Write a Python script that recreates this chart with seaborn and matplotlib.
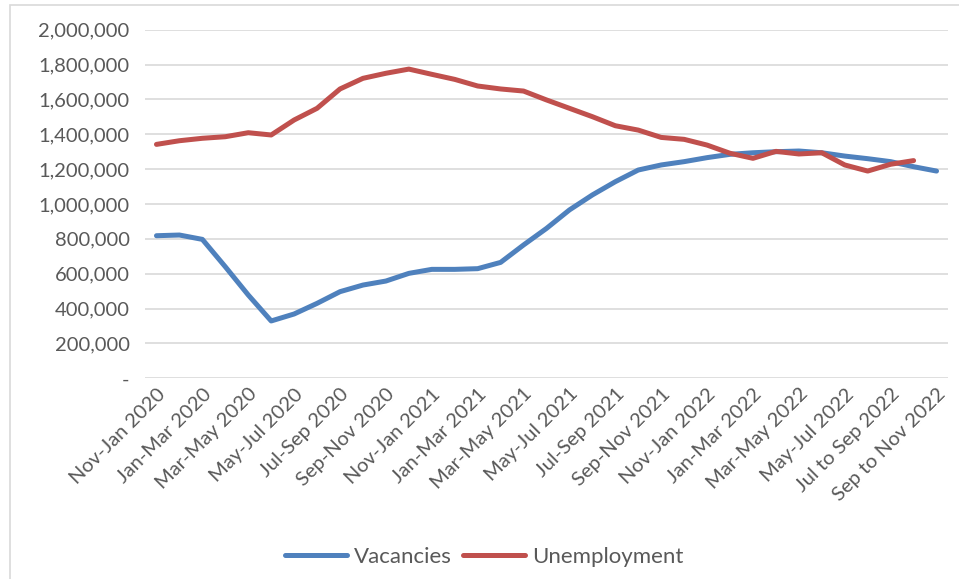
import numpy as np
import pandas as pd
import matplotlib
matplotlib.use("Agg")
import matplotlib.pyplot as plt
from matplotlib.patches import Rectangle
from matplotlib.ticker import FuncFormatter
import seaborn as sns

# rolling three-month periods, one per month
periods = [
    "Nov-Jan 2020", "Dec-Feb 2020", "Jan-Mar 2020", "Feb-Apr 2020", "Mar-May 2020",
    "Apr-Jun 2020", "May-Jul 2020", "Jun-Aug 2020", "Jul-Sep 2020", "Aug-Oct 2020",
    "Sep-Nov 2020", "Oct-Dec 2020", "Nov-Jan 2021", "Dec-Feb 2021", "Jan-Mar 2021",
    "Feb-Apr 2021", "Mar-May 2021", "Apr-Jun 2021", "May-Jul 2021", "Jun-Aug 2021",
    "Jul-Sep 2021", "Aug-Oct 2021", "Sep-Nov 2021", "Oct-Dec 2021", "Nov-Jan 2022",
    "Dec-Feb 2022", "Jan-Mar 2022", "Feb-Apr 2022", "Mar-May 2022", "Apr-Jun 2022",
    "May-Jul 2022", "Jun-Aug 2022", "Jul to Sep 2022", "Aug to Oct 2022", "Sep to Nov 2022",
]

vacancies = [
    818000, 822000, 797000, 640000, 478000, 329000, 369000, 430000, 497000, 535000,
    558000, 602000, 625000, 625000, 629000, 665000, 765000, 860000, 966000, 1052000,
    1128000, 1195000, 1224000, 1243000, 1266000, 1285000, 1294000, 1300000, 1304000, 1294000,
    1275000, 1260000, 1243000, 1214000, 1189000,
]

unemployment = [
    1342000, 1363000, 1377000, 1386000, 1409000, 1396000, 1482000, 1549000, 1660000, 1721000,
    1750000, 1774000, 1744000, 1715000, 1677000, 1660000, 1648000, 1597000, 1549000, 1501000,
    1449000, 1424000, 1382000, 1371000, 1338000, 1291000, 1262000, 1302000, 1287000, 1294000,
    1224000, 1189000, 1228000, 1249000,
]

y_ticks = [0, 200000, 400000, 600000, 800000, 1000000, 1200000, 1400000,
           1600000, 1800000, 2000000]

BLUE = "#4F81BD"
RED = "#C0504D"
GRID = "#D9D9D9"
TEXT = "#595959"

sns.set_theme(style="white")
plt.rcParams["font.family"] = ["Lato", "DejaVu Sans"]

fig = plt.figure(figsize=(9.59, 5.79), dpi=100)
ax = fig.add_axes([145 / 959, 1 - 378.3 / 579, (948 - 145) / 959, (378.3 - 29.7) / 579])

vac_df = pd.DataFrame({"idx": range(len(vacancies)), "value": vacancies})
unemp_df = pd.DataFrame({"idx": range(len(unemployment)), "value": unemployment})

sns.lineplot(data=vac_df, x="idx", y="value", ax=ax, color=BLUE, linewidth=3.6,
             label="Vacancies", solid_capstyle="round", solid_joinstyle="round")
sns.lineplot(data=unemp_df, x="idx", y="value", ax=ax, color=RED, linewidth=3.6,
             label="Unemployment", solid_capstyle="round", solid_joinstyle="round")

ax.set_xlim(-0.5, len(periods) - 0.5)
ax.set_ylim(0, 2000000)
ax.set_yticks(y_ticks)
ax.yaxis.set_major_formatter(FuncFormatter(lambda v, p: "-" if v == 0 else f"{int(v):,}"))
ax.set_xticks(range(0, len(periods), 2))
ax.set_xticklabels(periods[::2], rotation=45, ha="right", va="top",
                   rotation_mode="anchor")
ax.grid(axis="y", color=GRID, linewidth=1.2)
ax.set_axisbelow(True)
for s in ax.spines.values():
    s.set_visible(False)
ax.tick_params(axis="both", length=0, labelsize=14.5, colors=TEXT)
ax.tick_params(axis="y", pad=11)
ax.tick_params(axis="x", pad=5)
ax.set_xlabel("")
ax.set_ylabel("")

handles, labels = ax.get_legend_handles_labels()
ax.get_legend().remove()
fig.legend(handles, labels, loc="center", bbox_to_anchor=(0.505, 1 - 557 / 579), ncol=2,
           frameon=False, fontsize=16, handlelength=2.8, columnspacing=0.5,
           handletextpad=0.3, labelcolor=TEXT)

# chart area border
fig.patches.append(Rectangle((10 / 959, -0.1), 1.2, 1 - 5 / 579 + 0.1,
                             transform=fig.transFigure, fill=False,
                             edgecolor=GRID, linewidth=1.2))

fig.savefig("out.png", dpi=100)
